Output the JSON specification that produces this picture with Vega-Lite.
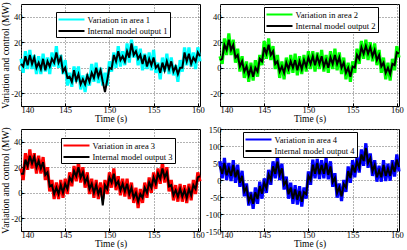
{
"$schema": "https://vega.github.io/schema/vega-lite/v6.json",
"padding": {"left": 0, "top": 1, "right": 3, "bottom": 0},
"config": {
 "font": "Liberation Serif",
 "view": {"stroke": "black", "strokeWidth": 1},
 "axis": {"labelFont": "Liberation Serif", "titleFont": "Liberation Serif", "labelFontSize": 8.5, "titleFontSize": 9.5, "titleFontWeight": "normal", "labelColor": "black", "titleColor": "black", "domain": false, "gridColor": "#666", "gridDash": [1, 2], "gridOpacity": 1, "tickColor": "black", "tickSize": -3, "labelPadding": 2, "titlePadding": 0, "labelExpr": "'' + datum.value"},
 "legend": {"orient": "none", "title": null, "symbolType": "M-1,0H4.2", "symbolSize": 100, "symbolStrokeWidth": 2, "labelFont": "Liberation Serif", "labelFontSize": 8.5, "labelColor": "black", "strokeColor": "black", "fillColor": "white", "padding": 1.5, "rowPadding": 0.5, "labelLimit": 200, "labelOffset": 18, "offset": 0}
},
"data": {"values": [
{"p":1,"t":140,"v":7,"m":3},{"p":1,"t":140.25,"v":-4,"m":1},{"p":1,"t":140.5,"v":13,"m":9},{"p":1,"t":140.75,"v":-1,"m":2},{"p":1,"t":141,"v":14,"m":10},{"p":1,"t":141.25,"v":-1,"m":3},{"p":1,"t":141.5,"v":10,"m":8},{"p":1,"t":141.75,"v":-5,"m":0},{"p":1,"t":142,"v":9,"m":4},{"p":1,"t":142.25,"v":-5,"m":-1},{"p":1,"t":142.5,"v":11,"m":7},{"p":1,"t":142.75,"v":-3,"m":-2},{"p":1,"t":143,"v":8,"m":5},{"p":1,"t":143.25,"v":-5,"m":1},{"p":1,"t":143.5,"v":12,"m":7},{"p":1,"t":143.75,"v":1,"m":4},{"p":1,"t":144,"v":17,"m":12},{"p":1,"t":144.25,"v":0,"m":4},{"p":1,"t":144.5,"v":10,"m":8},{"p":1,"t":144.75,"v":-5,"m":-3},{"p":1,"t":145,"v":6,"m":0},{"p":1,"t":145.25,"v":-14,"m":-8},{"p":1,"t":145.5,"v":-4,"m":-7},{"p":1,"t":145.75,"v":-15,"m":-11},{"p":1,"t":146,"v":1,"m":-2},{"p":1,"t":146.25,"v":-11,"m":-10},{"p":1,"t":146.5,"v":1,"m":-5},{"p":1,"t":146.75,"v":-17,"m":-13},{"p":1,"t":147,"v":-6,"m":-9},{"p":1,"t":147.25,"v":-19,"m":-13},{"p":1,"t":147.5,"v":-5,"m":-6},{"p":1,"t":147.75,"v":-14,"m":-11},{"p":1,"t":148,"v":3,"m":-4},{"p":1,"t":148.25,"v":-11,"m":-8},{"p":1,"t":148.5,"v":4,"m":0},{"p":1,"t":148.75,"v":-12,"m":-7},{"p":1,"t":149,"v":0,"m":-2},{"p":1,"t":149.25,"v":-14,"m":-11},{"p":1,"t":149.5,"v":-4,"m":-19},{"p":1,"t":149.75,"v":-14,"m":-10},{"p":1,"t":150,"v":5,"m":0},{"p":1,"t":150.25,"v":-3,"m":-1},{"p":1,"t":150.5,"v":12,"m":10},{"p":1,"t":150.75,"v":0,"m":5},{"p":1,"t":151,"v":17,"m":13},{"p":1,"t":151.25,"v":1,"m":6},{"p":1,"t":151.5,"v":13,"m":9},{"p":1,"t":151.75,"v":2,"m":5},{"p":1,"t":152,"v":19,"m":13},{"p":1,"t":152.25,"v":4,"m":8},{"p":1,"t":152.5,"v":22,"m":19},{"p":1,"t":152.75,"v":8,"m":10},{"p":1,"t":153,"v":17,"m":13},{"p":1,"t":153.25,"v":2,"m":7},{"p":1,"t":153.5,"v":15,"m":10},{"p":1,"t":153.75,"v":-2,"m":3},{"p":1,"t":154,"v":11,"m":10},{"p":1,"t":154.25,"v":-1,"m":1},{"p":1,"t":154.5,"v":12,"m":7},{"p":1,"t":154.75,"v":-2,"m":2},{"p":1,"t":155,"v":14,"m":8},{"p":1,"t":155.25,"v":-4,"m":0},{"p":1,"t":155.5,"v":4,"m":2},{"p":1,"t":155.75,"v":-9,"m":-4},{"p":1,"t":156,"v":8,"m":4},{"p":1,"t":156.25,"v":-3,"m":-2},{"p":1,"t":156.5,"v":11,"m":5},{"p":1,"t":156.75,"v":-5,"m":-1},{"p":1,"t":157,"v":8,"m":5},{"p":1,"t":157.25,"v":-6,"m":-3},{"p":1,"t":157.5,"v":2,"m":1},{"p":1,"t":157.75,"v":-11,"m":-5},{"p":1,"t":158,"v":6,"m":0},{"p":1,"t":158.25,"v":-3,"m":0},{"p":1,"t":158.5,"v":16,"m":12},{"p":1,"t":158.75,"v":2,"m":5},{"p":1,"t":159,"v":16,"m":11},{"p":1,"t":159.25,"v":1,"m":3},{"p":1,"t":159.5,"v":12,"m":8},{"p":1,"t":159.75,"v":-1,"m":5},{"p":1,"t":160,"v":16,"m":12},{"p":1,"t":160.25,"v":5,"m":9},
{"p":2,"t":140,"v":9,"m":6},{"p":2,"t":140.25,"v":3,"m":7},{"p":2,"t":140.5,"v":23,"m":18},{"p":2,"t":140.75,"v":10,"m":14},{"p":2,"t":141,"v":27,"m":22},{"p":2,"t":141.25,"v":10,"m":14},{"p":2,"t":141.5,"v":22,"m":18},{"p":2,"t":141.75,"v":4,"m":8},{"p":2,"t":142,"v":15,"m":10},{"p":2,"t":142.25,"v":-3,"m":1},{"p":2,"t":142.5,"v":9,"m":5},{"p":2,"t":142.75,"v":-8,"m":-3},{"p":2,"t":143,"v":5,"m":1},{"p":2,"t":143.25,"v":-11,"m":-6},{"p":2,"t":143.5,"v":4,"m":0},{"p":2,"t":143.75,"v":-10,"m":-7},{"p":2,"t":144,"v":6,"m":0},{"p":2,"t":144.25,"v":-7,"m":-3},{"p":2,"t":144.5,"v":10,"m":7},{"p":2,"t":144.75,"v":2,"m":5},{"p":2,"t":145,"v":21,"m":16},{"p":2,"t":145.25,"v":7,"m":11},{"p":2,"t":145.5,"v":23,"m":18},{"p":2,"t":145.75,"v":6,"m":10},{"p":2,"t":146,"v":17,"m":13},{"p":2,"t":146.25,"v":-1,"m":3},{"p":2,"t":146.5,"v":10,"m":5},{"p":2,"t":146.75,"v":-8,"m":-3},{"p":2,"t":147,"v":5,"m":1},{"p":2,"t":147.25,"v":-9,"m":-4},{"p":2,"t":147.5,"v":8,"m":4},{"p":2,"t":147.75,"v":-5,"m":-1},{"p":2,"t":148,"v":10,"m":5},{"p":2,"t":148.25,"v":-4,"m":0},{"p":2,"t":148.5,"v":11,"m":6},{"p":2,"t":148.75,"v":-6,"m":-2},{"p":2,"t":149,"v":9,"m":5},{"p":2,"t":149.25,"v":-5,"m":-1},{"p":2,"t":149.5,"v":10,"m":6},{"p":2,"t":149.75,"v":-3,"m":1},{"p":2,"t":150,"v":13,"m":8},{"p":2,"t":150.25,"v":-1,"m":3},{"p":2,"t":150.5,"v":13,"m":9},{"p":2,"t":150.75,"v":-3,"m":2},{"p":2,"t":151,"v":12,"m":9},{"p":2,"t":151.25,"v":-1,"m":3},{"p":2,"t":151.5,"v":14,"m":9},{"p":2,"t":151.75,"v":-3,"m":1},{"p":2,"t":152,"v":10,"m":6},{"p":2,"t":152.25,"v":-4,"m":0},{"p":2,"t":152.5,"v":13,"m":8},{"p":2,"t":152.75,"v":-1,"m":3},{"p":2,"t":153,"v":15,"m":10},{"p":2,"t":153.25,"v":-2,"m":3},{"p":2,"t":153.5,"v":12,"m":8},{"p":2,"t":153.75,"v":-5,"m":0},{"p":2,"t":154,"v":8,"m":4},{"p":2,"t":154.25,"v":-9,"m":-4},{"p":2,"t":154.5,"v":4,"m":0},{"p":2,"t":154.75,"v":-11,"m":-7},{"p":2,"t":155,"v":5,"m":1},{"p":2,"t":155.25,"v":-4,"m":0},{"p":2,"t":155.5,"v":15,"m":10},{"p":2,"t":155.75,"v":3,"m":7},{"p":2,"t":156,"v":21,"m":16},{"p":2,"t":156.25,"v":7,"m":11},{"p":2,"t":156.5,"v":22,"m":17},{"p":2,"t":156.75,"v":6,"m":11},{"p":2,"t":157,"v":20,"m":16},{"p":2,"t":157.25,"v":5,"m":9},{"p":2,"t":157.5,"v":19,"m":14},{"p":2,"t":157.75,"v":2,"m":6},{"p":2,"t":158,"v":14,"m":10},{"p":2,"t":158.25,"v":-4,"m":1},{"p":2,"t":158.5,"v":8,"m":4},{"p":2,"t":158.75,"v":-9,"m":-4},{"p":2,"t":159,"v":4,"m":0},{"p":2,"t":159.25,"v":-10,"m":-5},{"p":2,"t":159.5,"v":7,"m":3},{"p":2,"t":159.75,"v":-2,"m":2},{"p":2,"t":160,"v":17,"m":12},{"p":2,"t":160.25,"v":8,"m":11},
{"p":3,"t":140,"v":19,"m":15},{"p":3,"t":140.25,"v":10,"m":15},{"p":3,"t":140.5,"v":31,"m":26},{"p":3,"t":140.75,"v":18,"m":21},{"p":3,"t":141,"v":34,"m":29},{"p":3,"t":141.25,"v":19,"m":23},{"p":3,"t":141.5,"v":31,"m":28},{"p":3,"t":141.75,"v":15,"m":20},{"p":3,"t":142,"v":29,"m":25},{"p":3,"t":142.25,"v":15,"m":19},{"p":3,"t":142.5,"v":28,"m":24},{"p":3,"t":142.75,"v":10,"m":14},{"p":3,"t":143,"v":20,"m":16},{"p":3,"t":143.25,"v":1,"m":5},{"p":3,"t":143.5,"v":10,"m":6},{"p":3,"t":143.75,"v":-5,"m":-1},{"p":3,"t":144,"v":8,"m":4},{"p":3,"t":144.25,"v":-5,"m":-1},{"p":3,"t":144.5,"v":10,"m":6},{"p":3,"t":144.75,"v":-4,"m":0},{"p":3,"t":145,"v":11,"m":7},{"p":3,"t":145.25,"v":-1,"m":3},{"p":3,"t":145.5,"v":16,"m":12},{"p":3,"t":145.75,"v":5,"m":9},{"p":3,"t":146,"v":21,"m":17},{"p":3,"t":146.25,"v":9,"m":13},{"p":3,"t":146.5,"v":24,"m":20},{"p":3,"t":146.75,"v":8,"m":12},{"p":3,"t":147,"v":20,"m":16},{"p":3,"t":147.25,"v":4,"m":8},{"p":3,"t":147.5,"v":16,"m":12},{"p":3,"t":147.75,"v":-1,"m":3},{"p":3,"t":148,"v":11,"m":7},{"p":3,"t":148.25,"v":-4,"m":0},{"p":3,"t":148.5,"v":10,"m":6},{"p":3,"t":148.75,"v":-5,"m":-1},{"p":3,"t":149,"v":8,"m":4},{"p":3,"t":149.25,"v":-5,"m":-10},{"p":3,"t":149.5,"v":10,"m":6},{"p":3,"t":149.75,"v":-1,"m":3},{"p":3,"t":150,"v":16,"m":12},{"p":3,"t":150.25,"v":4,"m":8},{"p":3,"t":150.5,"v":19,"m":15},{"p":3,"t":150.75,"v":2,"m":6},{"p":3,"t":151,"v":13,"m":9},{"p":3,"t":151.25,"v":-2,"m":2},{"p":3,"t":151.5,"v":11,"m":7},{"p":3,"t":151.75,"v":-3,"m":1},{"p":3,"t":152,"v":11,"m":7},{"p":3,"t":152.25,"v":-5,"m":-1},{"p":3,"t":152.5,"v":8,"m":4},{"p":3,"t":152.75,"v":-8,"m":-4},{"p":3,"t":153,"v":4,"m":0},{"p":3,"t":153.25,"v":-12,"m":-7},{"p":3,"t":153.5,"v":3,"m":-1},{"p":3,"t":153.75,"v":-8,"m":-4},{"p":3,"t":154,"v":8,"m":4},{"p":3,"t":154.25,"v":-4,"m":0},{"p":3,"t":154.5,"v":12,"m":8},{"p":3,"t":154.75,"v":0,"m":4},{"p":3,"t":155,"v":16,"m":12},{"p":3,"t":155.25,"v":3,"m":7},{"p":3,"t":155.5,"v":19,"m":15},{"p":3,"t":155.75,"v":7,"m":11},{"p":3,"t":156,"v":24,"m":19},{"p":3,"t":156.25,"v":8,"m":12},{"p":3,"t":156.5,"v":20,"m":16},{"p":3,"t":156.75,"v":1,"m":5},{"p":3,"t":157,"v":10,"m":6},{"p":3,"t":157.25,"v":-6,"m":-2},{"p":3,"t":157.5,"v":6,"m":2},{"p":3,"t":157.75,"v":-7,"m":-3},{"p":3,"t":158,"v":7,"m":3},{"p":3,"t":158.25,"v":-7,"m":-3},{"p":3,"t":158.5,"v":6,"m":2},{"p":3,"t":158.75,"v":-8,"m":-4},{"p":3,"t":159,"v":7,"m":3},{"p":3,"t":159.25,"v":-6,"m":-2},{"p":3,"t":159.5,"v":10,"m":6},{"p":3,"t":159.75,"v":-1,"m":3},{"p":3,"t":160,"v":16,"m":12},{"p":3,"t":160.25,"v":9,"m":13},
{"p":4,"t":140,"v":55,"m":40},{"p":4,"t":140.25,"v":5,"m":18},{"p":4,"t":140.5,"v":65,"m":50},{"p":4,"t":140.75,"v":0,"m":14},{"p":4,"t":141,"v":50,"m":34},{"p":4,"t":141.25,"v":-3,"m":12},{"p":4,"t":141.5,"v":58,"m":44},{"p":4,"t":141.75,"v":-8,"m":8},{"p":4,"t":142,"v":45,"m":30},{"p":4,"t":142.25,"v":-20,"m":-8},{"p":4,"t":142.5,"v":27,"m":12},{"p":4,"t":142.75,"v":-48,"m":-34},{"p":4,"t":143,"v":-10,"m":-22},{"p":4,"t":143.25,"v":-75,"m":-62},{"p":4,"t":143.5,"v":-35,"m":-46},{"p":4,"t":143.75,"v":-85,"m":-70},{"p":4,"t":144,"v":-22,"m":-36},{"p":4,"t":144.25,"v":-70,"m":-56},{"p":4,"t":144.5,"v":-5,"m":-18},{"p":4,"t":144.75,"v":-55,"m":-40},{"p":4,"t":145,"v":5,"m":-8},{"p":4,"t":145.25,"v":-38,"m":-24},{"p":4,"t":145.5,"v":30,"m":16},{"p":4,"t":145.75,"v":-14,"m":0},{"p":4,"t":146,"v":55,"m":40},{"p":4,"t":146.25,"v":5,"m":18},{"p":4,"t":146.5,"v":68,"m":54},{"p":4,"t":146.75,"v":0,"m":16},{"p":4,"t":147,"v":48,"m":34},{"p":4,"t":147.25,"v":-28,"m":-14},{"p":4,"t":147.5,"v":10,"m":-3},{"p":4,"t":147.75,"v":-55,"m":-42},{"p":4,"t":148,"v":-8,"m":-22},{"p":4,"t":148.25,"v":-70,"m":-56},{"p":4,"t":148.5,"v":-15,"m":-28},{"p":4,"t":148.75,"v":-72,"m":-58},{"p":4,"t":149,"v":-18,"m":-32},{"p":4,"t":149.25,"v":-78,"m":-64},{"p":4,"t":149.5,"v":-22,"m":-36},{"p":4,"t":149.75,"v":-55,"m":-42},{"p":4,"t":150,"v":25,"m":12},{"p":4,"t":150.25,"v":-14,"m":0},{"p":4,"t":150.5,"v":60,"m":45},{"p":4,"t":150.75,"v":5,"m":18},{"p":4,"t":151,"v":62,"m":50},{"p":4,"t":151.25,"v":3,"m":17},{"p":4,"t":151.5,"v":58,"m":44},{"p":4,"t":151.75,"v":5,"m":18},{"p":4,"t":152,"v":65,"m":50},{"p":4,"t":152.25,"v":2,"m":15},{"p":4,"t":152.5,"v":55,"m":40},{"p":4,"t":152.75,"v":-20,"m":-6},{"p":4,"t":153,"v":20,"m":6},{"p":4,"t":153.25,"v":-52,"m":-38},{"p":4,"t":153.5,"v":-10,"m":-22},{"p":4,"t":153.75,"v":-62,"m":-48},{"p":4,"t":154,"v":0,"m":-12},{"p":4,"t":154.25,"v":-35,"m":-22},{"p":4,"t":154.5,"v":40,"m":26},{"p":4,"t":154.75,"v":-8,"m":6},{"p":4,"t":155,"v":58,"m":44},{"p":4,"t":155.25,"v":8,"m":22},{"p":4,"t":155.5,"v":68,"m":54},{"p":4,"t":155.75,"v":22,"m":36},{"p":4,"t":156,"v":90,"m":75},{"p":4,"t":156.25,"v":42,"m":56},{"p":4,"t":156.5,"v":108,"m":94},{"p":4,"t":156.75,"v":36,"m":50},{"p":4,"t":157,"v":78,"m":64},{"p":4,"t":157.25,"v":12,"m":26},{"p":4,"t":157.5,"v":58,"m":44},{"p":4,"t":157.75,"v":-5,"m":8},{"p":4,"t":158,"v":42,"m":28},{"p":4,"t":158.25,"v":-5,"m":8},{"p":4,"t":158.5,"v":58,"m":44},{"p":4,"t":158.75,"v":-3,"m":12},{"p":4,"t":159,"v":48,"m":34},{"p":4,"t":159.25,"v":-2,"m":12},{"p":4,"t":159.5,"v":58,"m":44},{"p":4,"t":159.75,"v":10,"m":24},{"p":4,"t":160,"v":75,"m":60},{"p":4,"t":160.25,"v":25,"m":38}
]},
"columns": 2,
"spacing": {"row": 23, "column": 20},
"bounds": "flush",
"resolve": {"scale": {"color": "independent", "x": "independent", "y": "independent"}, "legend": {"color": "independent"}},
"concat": [
 {"width": 179, "height": 102, "transform": [{"filter": "datum.p == 1"}],
  "encoding": {"x": {"field": "t", "type": "quantitative", "scale": {"domain": [140, 160.25], "nice": false, "zero": false}, "axis": {"values": [140, 145, 150, 155, 160], "title": "Time (s)"}}},
  "layer": [
   {"mark": {"type": "line", "strokeWidth": 3.2}, "encoding": {"y": {"field": "v", "type": "quantitative", "scale": {"domain": [-30, 50], "nice": false}, "axis": {"values": [-20, 0, 20, 40], "title": "Variation and control (MW)"}}, "color": {"datum": "Variation in area 1", "type": "nominal", "scale": {"domain": ["Variation in area 1", "Internal model output 1"], "range": ["#00ffff", "#000000"]}, "legend": {"legendX": 35, "legendY": 8}}}},
   {"mark": {"type": "line", "strokeWidth": 2}, "encoding": {"y": {"field": "m", "type": "quantitative", "axis": {"values": [-20, 0, 20, 40], "title": "Variation and control (MW)"}}, "color": {"datum": "Internal model output 1", "type": "nominal"}}}
  ]},
 {"width": 179, "height": 102, "transform": [{"filter": "datum.p == 2"}],
  "encoding": {"x": {"field": "t", "type": "quantitative", "scale": {"domain": [140, 160.25], "nice": false, "zero": false}, "axis": {"values": [140, 145, 150, 155, 160], "title": "Time (s)"}}},
  "layer": [
   {"mark": {"type": "line", "strokeWidth": 3.2}, "encoding": {"y": {"field": "v", "type": "quantitative", "scale": {"domain": [-30, 50], "nice": false}, "axis": {"values": [-20, 0, 20, 40], "title": null}}, "color": {"datum": "Variation in area 2", "type": "nominal", "scale": {"domain": ["Variation in area 2", "Internal model output 2"], "range": ["#00ff00", "#000000"]}, "legend": {"legendX": 44, "legendY": 3}}}},
   {"mark": {"type": "line", "strokeWidth": 2}, "encoding": {"y": {"field": "m", "type": "quantitative", "axis": {"values": [-20, 0, 20, 40], "title": null}}, "color": {"datum": "Internal model output 2", "type": "nominal"}}}
  ]},
 {"width": 179, "height": 102, "transform": [{"filter": "datum.p == 3"}],
  "encoding": {"x": {"field": "t", "type": "quantitative", "scale": {"domain": [140, 160.25], "nice": false, "zero": false}, "axis": {"values": [140, 145, 150, 155, 160], "title": "Time (s)"}}},
  "layer": [
   {"mark": {"type": "line", "strokeWidth": 3.2}, "encoding": {"y": {"field": "v", "type": "quantitative", "scale": {"domain": [-30, 50], "nice": false}, "axis": {"values": [-20, 0, 20, 40], "title": "Variation and control (MW)"}}, "color": {"datum": "Variation in area 3", "type": "nominal", "scale": {"domain": ["Variation in area 3", "Internal model output 3"], "range": ["#ff0000", "#000000"]}, "legend": {"legendX": 40, "legendY": 9}}}},
   {"mark": {"type": "line", "strokeWidth": 2}, "encoding": {"y": {"field": "m", "type": "quantitative", "axis": {"values": [-20, 0, 20, 40], "title": "Variation and control (MW)"}}, "color": {"datum": "Internal model output 3", "type": "nominal"}}}
  ]},
 {"width": 179, "height": 102, "transform": [{"filter": "datum.p == 4"}],
  "encoding": {"x": {"field": "t", "type": "quantitative", "scale": {"domain": [140, 160.25], "nice": false, "zero": false}, "axis": {"values": [140, 145, 150, 155, 160], "title": "Time (s)"}}},
  "layer": [
   {"mark": {"type": "line", "strokeWidth": 3.2}, "encoding": {"y": {"field": "v", "type": "quantitative", "scale": {"domain": [-150, 150], "nice": false}, "axis": {"values": [-150, -100, -50, 0, 50, 100, 150], "title": null}}, "color": {"datum": "Variation in area 4", "type": "nominal", "scale": {"domain": ["Variation in area 4", "Internal model output 4"], "range": ["#0000ff", "#000000"]}, "legend": {"legendX": 23, "legendY": 3}}}},
   {"mark": {"type": "line", "strokeWidth": 2}, "encoding": {"y": {"field": "m", "type": "quantitative", "axis": {"values": [-150, -100, -50, 0, 50, 100, 150], "title": null}}, "color": {"datum": "Internal model output 4", "type": "nominal"}}}
  ]}
]
}
